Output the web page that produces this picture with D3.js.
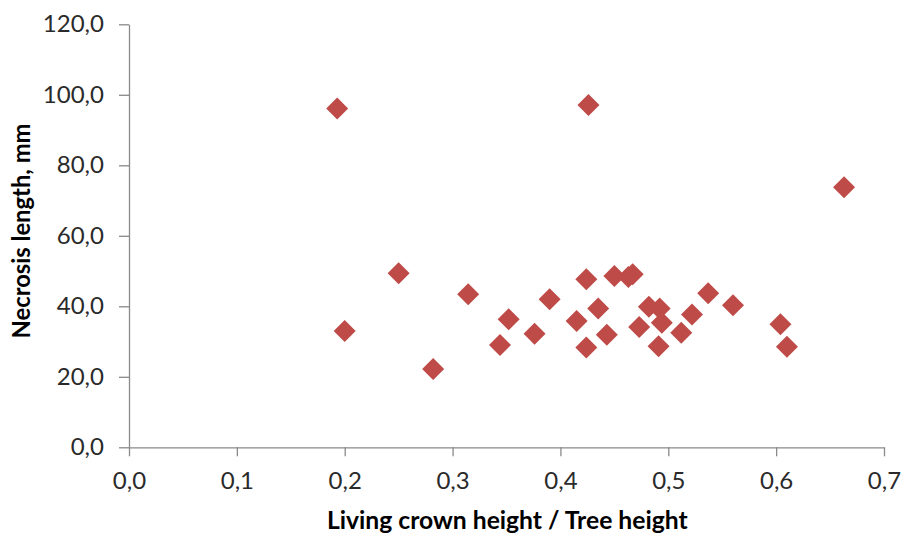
<!DOCTYPE html>
<html>
<head>
<meta charset="utf-8">
<script src="https://cdn.jsdelivr.net/npm/d3@7"></script>
<style>
  html, body { margin: 0; padding: 0; background: #fff; }
  svg { display: block; }
</style>
</head>
<body>
<svg id="chart" width="904" height="536"></svg>
<script>
// Data
const crownRatio = [0.193, 0.426, 0.663, 0.250, 0.200, 0.282, 0.3145, 0.344, 0.352, 0.376,
                    0.390, 0.415, 0.424, 0.424, 0.435, 0.443, 0.450, 0.463, 0.467, 0.473,
                    0.482, 0.492, 0.494, 0.491, 0.512, 0.522, 0.537, 0.560, 0.604, 0.610];
const necrosisLength = [96.1, 97.1, 73.8, 49.4, 33.0, 22.2, 43.4, 29.0, 36.3, 32.2,
                        42.0, 35.8, 47.7, 28.3, 39.4, 31.9, 48.6, 48.3, 49.1, 34.1,
                        39.9, 39.4, 35.3, 28.7, 32.5, 37.7, 43.7, 40.3, 34.9, 28.5];
const xTicks = [0, 0.1, 0.2, 0.3, 0.4, 0.5, 0.6, 0.7];
const yTicks = [0, 20, 40, 60, 80, 100, 120];
const xTitle = "Living crown height / Tree height";
const yTitle = "Necrosis length, mm";

const points = crownRatio.map((x, i) => ({ x, y: necrosisLength[i] }));

const svg = d3.select("#chart");
const plotLeft = 129, plotRight = 884, plotTop = 24.3, plotBottom = 447.3;

const x = d3.scaleLinear().domain([0, 0.7]).range([plotLeft, plotRight]);
const y = d3.scaleLinear().domain([0, 120]).range([plotBottom, plotTop]);

const locale = d3.formatLocale({ decimal: ",", thousands: ".", grouping: [3], currency: ["", ""] });
const fmt = locale.format(".1f");

const axisColor = "#8a8a8a";
const font = "Lato, 'Open Sans', sans-serif";

const xAxis = svg.append("g")
  .attr("transform", `translate(0,${plotBottom})`)
  .call(d3.axisBottom(x).tickValues(xTicks).tickFormat(fmt).tickSizeInner(9).tickSizeOuter(0).tickPadding(11));
const yAxis = svg.append("g")
  .attr("transform", `translate(${plotLeft},0)`)
  .call(d3.axisLeft(y).tickValues(yTicks).tickFormat(fmt).tickSizeInner(10).tickSizeOuter(0).tickPadding(15));

[xAxis, yAxis].forEach(g => {
  g.select(".domain").attr("stroke", axisColor).attr("stroke-width", 1.3);
  g.selectAll(".tick line").attr("stroke", axisColor).attr("stroke-width", 1.3);
  g.selectAll(".tick text")
    .attr("fill", "#2a2a2a")
    .style("font-family", font)
    .style("font-size", "24px");
});
xAxis.selectAll(".tick text").attr("dy", "0.9em");

// markers
svg.append("g").selectAll("path")
  .data(points)
  .join("path")
  .attr("d", d3.symbol(d3.symbolSquare, 242))
  .attr("transform", d => `translate(${x(d.x)},${y(d.y)}) rotate(45)`)
  .attr("fill", "#be4b48");

// titles
function fitText(sel, targetWidth) {
  const node = sel.node();
  let fs = parseFloat(sel.style("font-size"));
  const w = node.getComputedTextLength();
  if (w > 0) sel.style("font-size", (fs * targetWidth / w) + "px");
}

const xt = svg.append("text")
  .attr("x", 507.3).attr("y", 528.5)
  .attr("text-anchor", "middle")
  .style("font-family", font).style("font-weight", "bold").style("font-size", "20px")
  .attr("fill", "#000")
  .text(xTitle);
fitText(xt, 361);

const yt = svg.append("text")
  .attr("transform", "translate(29.5,231) rotate(-90)")
  .attr("text-anchor", "middle")
  .style("font-family", font).style("font-weight", "bold").style("font-size", "20px")
  .attr("fill", "#000")
  .text(yTitle);
fitText(yt, 215);
</script>
</body>
</html>
